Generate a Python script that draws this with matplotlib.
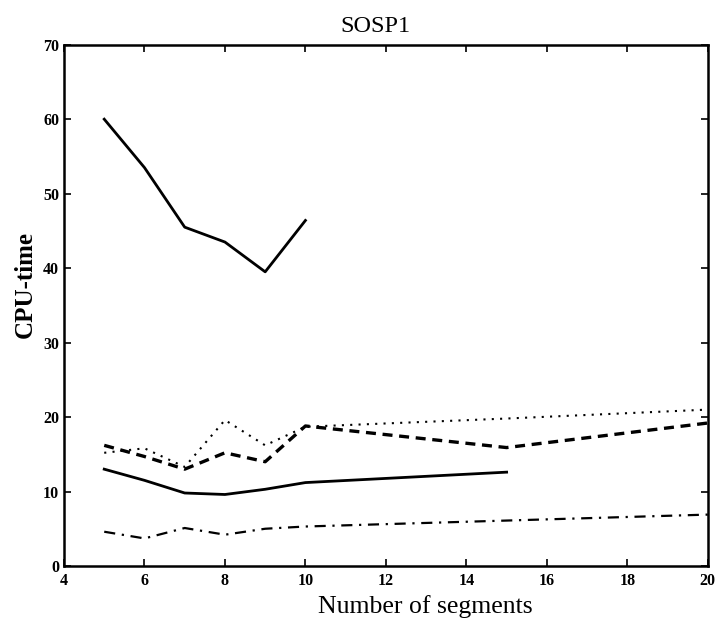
import matplotlib
matplotlib.use("Agg")
import matplotlib.pyplot as plt

plt.rcParams['font.family'] = ['Liberation Serif', 'DejaVu Serif']

x_top = [5, 6, 7, 8, 9, 10]
y_top = [60, 53.5, 45.5, 43.5, 39.5, 46.4]

x_solid = [5, 6, 7, 8, 9, 10, 15]
y_solid = [13.0, 11.5, 9.8, 9.6, 10.3, 11.2, 12.6]

x_long = [5, 6, 7, 8, 9, 10, 15, 20]
y_dashed = [16.2, 14.7, 13.0, 15.2, 14.0, 18.8, 15.9, 19.2]
y_dotted = [15.2, 15.8, 13.3, 19.6, 16.2, 18.7, 19.8, 21.0]
y_dashdot = [4.6, 3.7, 5.1, 4.2, 5.0, 5.3, 6.1, 6.9]

xticks = [4, 6, 8, 10, 12, 14, 16, 18, 20]
yticks = [0, 10, 20, 30, 40, 50, 60, 70]

fig = plt.figure(figsize=(7.23, 6.21), dpi=100)
ax = fig.add_axes([0.0885, 0.0886, 0.8905, 0.8394])

ax.plot(x_top, y_top, color='black', lw=2.0, ls='-')
ax.plot(x_solid, y_solid, color='black', lw=2.0, ls='-')
ax.plot(x_long, y_dashed, color='black', lw=2.4, ls=(0, (3, 2)))
ax.plot(x_long, y_dotted, color='black', lw=1.5, ls=(0, (1, 3)))
ax.plot(x_long, y_dashdot, color='black', lw=1.6, ls=(0, (5, 3, 1, 3)))

ax.set_xlim(4, 20)
ax.set_ylim(0, 70)
ax.set_xticks(xticks)
ax.set_yticks(yticks)
ax.set_xticklabels([str(t) for t in xticks], fontweight='bold', fontsize=11.5)
ax.set_yticklabels([str(t) for t in yticks], fontweight='bold', fontsize=11.5)
ax.tick_params(axis='x', pad=5)
ax.tick_params(direction='in', top=True, right=True, length=5, width=1.2)
for s in ax.spines.values():
    s.set_linewidth(1.8)

fig.text(375 / 723, (621 - 32) / 621, 'SOSP1', fontsize=17.5,
         ha='center', va='baseline')
fig.text(425 / 723, (621 - 613) / 621, 'Number of segments', fontsize=18.5,
         ha='center', va='baseline')
fig.text(25 / 723, (621 - 285) / 621, 'CPU-time', fontsize=18, fontweight='bold',
         ha='center', va='center', rotation=90)

fig.savefig('out.png', dpi=100)
